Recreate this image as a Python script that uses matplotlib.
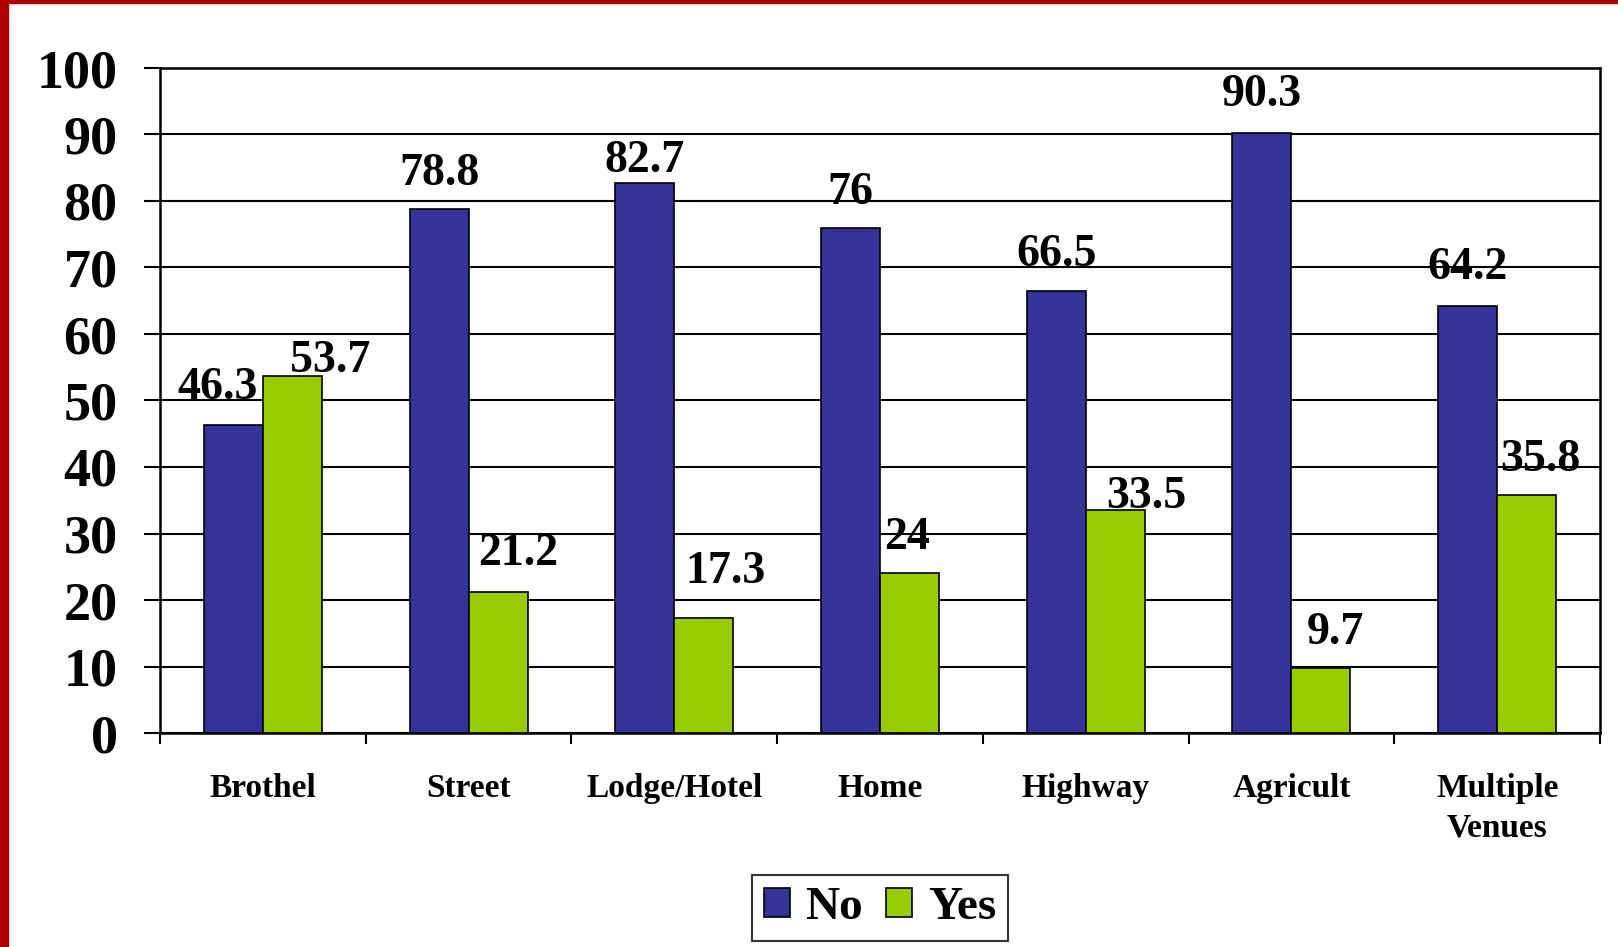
import matplotlib
matplotlib.use("Agg")
from matplotlib import pyplot as plt
from matplotlib.patches import Rectangle, Patch
from matplotlib.ticker import FixedLocator, NullFormatter, FixedFormatter
import numpy as np

categories = ["Brothel", "Street", "Lodge/Hotel", "Home", "Highway", "Agricult", "Multiple\nVenues"]
no_values = [46.3, 78.8, 82.7, 76, 66.5, 90.3, 64.2]
yes_values = [53.7, 21.2, 17.3, 24, 33.5, 9.7, 35.8]
series_names = ["No", "Yes"]

# hand nudges of the value labels (pixels): horizontal shift, gap above the bar
no_dx = [-16, 0, 0, 0, 0, 0, 0]
no_gap = [26, 24, 11, 24, 25, 27, 27]
yes_dx = [38, 20, 22, -2, 31, 14, 14]
yes_gap = [4, 27, 35, 24, 2, 24, 24]

DPI = 100
PX = 72.0 / DPI  # points per pixel
navy = "#333399"
lime = "#99CC00"

plt.rcParams["font.family"] = ["Liberation Serif", "DejaVu Serif"]
plt.rcParams["font.weight"] = "bold"

fig = plt.figure(figsize=(16.18, 9.47), dpi=DPI)
ax = fig.add_axes([160 / 1618, 1 - 733 / 947, 1440 / 1618, 665 / 947])

x = np.arange(len(categories))
width = 0.287
bars_no = ax.bar(x - width / 2, no_values, width, color=navy, edgecolor="black", linewidth=1.2, zorder=3)
bars_yes = ax.bar(x + width / 2, yes_values, width, color=lime, edgecolor="black", linewidth=1.2, zorder=3)

def label_bars(bars, values, dxs, gaps):
    for bar, v, dx, gap in zip(bars, values, dxs, gaps):
        text = f"{v:g}"
        ax.annotate(text, (bar.get_x() + bar.get_width() / 2, bar.get_height()),
                    xytext=(dx * PX, gap * PX), textcoords="offset points",
                    ha="center", va="baseline", fontsize=33, fontweight="bold", zorder=5)

label_bars(bars_no, no_values, no_dx, no_gap)
label_bars(bars_yes, yes_values, yes_dx, yes_gap)

ax.set_xlim(-0.5, len(categories) - 0.5)
ax.set_ylim(0, 100)
ax.set_yticks(np.arange(0, 101, 10))
ax.yaxis.grid(True, color="black", linewidth=1.5, zorder=0)
ax.set_axisbelow(True)
ax.tick_params(axis="y", labelsize=39, length=16 * PX, width=1.5, pad=19, direction="out")
for lab in ax.get_yticklabels():
    lab.set_fontweight("bold")

# category boundaries get the ticks, centres get the labels
ax.xaxis.set_major_locator(FixedLocator(np.arange(len(categories) + 1) - 0.5))
ax.xaxis.set_major_formatter(NullFormatter())
ax.xaxis.set_minor_locator(FixedLocator(x))
ax.xaxis.set_minor_formatter(FixedFormatter(categories))
ax.tick_params(axis="x", which="major", length=11 * PX, width=1.5, direction="out")
ax.tick_params(axis="x", which="minor", length=0, pad=29, labelsize=24)
for lab in ax.xaxis.get_minorticklabels():
    lab.set_fontweight("bold")
    lab.set_linespacing(1.35)

for side in ["left", "bottom", "top", "right"]:
    ax.spines[side].set_color("black")
    ax.spines[side].set_linewidth(1.8)

handles = [Patch(facecolor=navy, edgecolor="black", linewidth=1.2),
           Patch(facecolor=lime, edgecolor="black", linewidth=1.2)]
leg = fig.legend(handles, series_names, loc="center", bbox_to_anchor=(880 / 1618, 1 - 908 / 947),
                 ncol=2, prop={"size": 34, "weight": "bold"}, fancybox=False, frameon=True,
                 edgecolor="black", handlelength=0.55, handleheight=0.55, handletextpad=0.33,
                 columnspacing=0.5, borderpad=0.25, borderaxespad=0)
leg.get_frame().set_linewidth(1.5)

# red frame of the slide
red = "#B00000"
fig.patches.append(Rectangle((0, 0), 8 / 1618, 1, transform=fig.transFigure, color=red, zorder=10))
fig.patches.append(Rectangle((0, 1 - 3 / 947), 1, 3 / 947, transform=fig.transFigure, color=red, zorder=10))

fig.savefig("out.png", dpi=DPI)
